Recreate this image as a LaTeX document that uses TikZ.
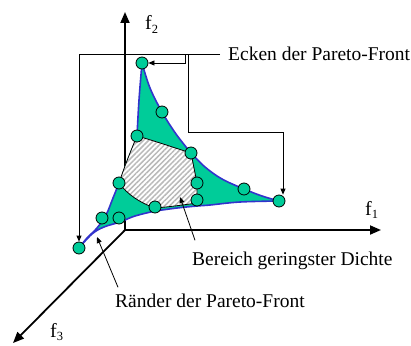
\documentclass[tikz,border=0pt]{standalone}
\usepackage{fontspec}
\setmainfont{Liberation Serif}
\usetikzlibrary{arrows.meta,patterns.meta}
\definecolor{pgreen}{RGB}{0,204,153}
\definecolor{pblue}{RGB}{51,51,204}
\newcommand{\axlab}[1]{\fontsize{20}{22}\selectfont f\raisebox{-3.5pt}{\fontsize{12.5}{14}\selectfont #1}}
\begin{document}
\begin{tikzpicture}[x=1pt,y=-1pt,
  pt/.style={circle,draw=black,line width=0.8pt,fill=pgreen,minimum size=12pt,inner sep=0pt},
  axis/.style={line width=1.8pt,-{Triangle[length=11pt,width=9pt]}},
  conn/.style={line width=0.8pt,-{Triangle[length=6pt,width=5pt]}},
  lbl/.style={font=\fontsize{19.5}{22}\selectfont,inner sep=0pt},
  hatch/.style={line width=0.8pt,draw=black,preaction={fill=white},
    preaction={pattern={Lines[angle=45,distance=3.6pt,line width=1.5pt]},pattern color=gray!55}},
]
\useasboundingbox (0,0) rectangle (411,345);

% axes
\coordinate (O) at (125,230);
\coordinate (X) at (381,230);
\coordinate (Y) at (125,12);
\coordinate (Z) at (13,343);
\draw[axis] (O) -- (X);
\draw[axis] (O) -- (Y);
\draw[axis] (O) -- (Z);
\fill (O) rectangle +(0.9pt,0.9pt);

% green front
\fill[pgreen]
  plot[smooth,tension=0.6] coordinates {(142,63) (150,88) (162,112) (176,134) (191,153)}
  -- plot[smooth,tension=0.6] coordinates {(191,153) (205,167) (222,179) (244,189) (262,196) (279,201)}
  -- plot[smooth,tension=0.6] coordinates {(279,201) (240,202) (210,205) (197,206) (177,208) (155,211)}
  -- plot[smooth,tension=0.6] coordinates {(155,211) (135,216) (120,222) (104,227) (92,234) (79,248)}
  -- plot[smooth,tension=0.6] coordinates {(79,248) (87,238) (97,228) (106,215) (113,198) (119,183)}
  -- plot[smooth,tension=0.6] coordinates {(119,183) (127,160) (137,136)}
  -- plot[smooth,tension=0.6] coordinates {(137,136) (139,100) (142,63)}
  -- cycle;
\draw[pblue,line width=1.6pt,line join=round]
  plot[smooth,tension=0.6] coordinates {(137,136) (139,100) (142,63)}
  -- plot[smooth,tension=0.6] coordinates {(142,63) (150,88) (162,112) (176,134) (191,153)}
  -- plot[smooth,tension=0.6] coordinates {(191,153) (205,167) (222,179) (244,189) (262,196) (279,201)}
  -- plot[smooth,tension=0.6] coordinates {(279,201) (240,202) (210,205) (197,206) (177,208) (155,211)}
  -- plot[smooth,tension=0.6] coordinates {(155,211) (135,216) (120,222) (104,227) (92,234) (79,248)}
  -- plot[smooth,tension=0.6] coordinates {(79,248) (87,238) (97,228) (106,215) (113,198) (119,183)};

% hatched region
\path[hatch] (137,136) .. controls (155,141) and (175,148) .. (191,153)
  -- (194,168) -- (197,183) -- (197,203)
  .. controls (183,205) and (168,207) .. (155,208)
  .. controls (140,203) and (127,194) .. (119,183)
  .. controls (124,168) and (131,150) .. (137,136) -- cycle;

% points
\node[pt] (p1) at (142,63) {};
\node[pt] (p2) at (162,112) {};
\node[pt] (p3) at (137,136) {};
\node[pt] (p4) at (191,153) {};
\node[pt] (p5) at (119,183) {};
\node[pt] (p6) at (197,183) {};
\node[pt] (p7) at (244,189) {};
\node[pt] (p8) at (197,200) {};
\node[pt] (p9) at (279,201) {};
\node[pt] (p10) at (155,207) {};
\node[pt] (p11) at (102,218) {};
\node[pt] (p12) at (119,218) {};
\node[pt] (p13) at (79,248) {};

% labels
\node[lbl,anchor=west] (ecken) at (228,54) {Ecken der Pareto-Front};
\node[lbl,anchor=base west] (bereich) at (192,265) {Bereich geringster Dichte};
\node[lbl,anchor=base west] (raender) at (115,307) {Ränder der Pareto-Front};
\node[anchor=base west,inner sep=0pt] (f1) at (365,215) {\axlab{1}};
\node[anchor=base west,inner sep=0pt] (f2) at (145,30) {\axlab{2}};
\node[anchor=base west,inner sep=0pt] (f3) at (50,337) {\axlab{3}};

% connectors
\coordinate (e1) at (188,54);
\coordinate (e2) at (185,54);
\coordinate (rtip) at (97,237);
\coordinate (btip) at (180,197);
\draw[conn] ([xshift=-8pt]ecken.west) -| (p13);
\draw[conn] (e1) -- (188,132) -| ([xshift=4pt]p9.north);
\draw[conn] (e2) |- (p1);
\draw[conn] ([shift={(3pt,6pt)}]raender.north west) -- (rtip);
\draw[conn] ([shift={(3pt,11pt)}]bereich.north west) -- (btip);
\end{tikzpicture}
\end{document}
